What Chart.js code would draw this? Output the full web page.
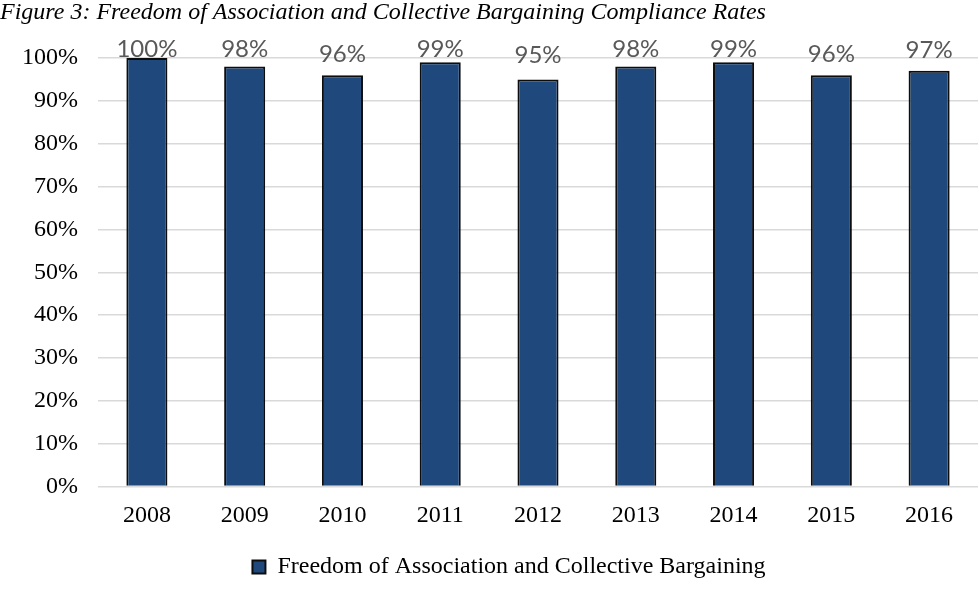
<!DOCTYPE html>
<html>
<head>
<meta charset="utf-8">
<script src="https://cdn.jsdelivr.net/npm/chart.js@4"></script>
<style>
  html, body { margin: 0; padding: 0; background: #ffffff; }
  #wrap { width: 979px; height: 589px; position: relative; }
</style>
</head>
<body>
<div id="wrap"><canvas id="c" width="979" height="589"></canvas></div>
<script>
// Compliance rates by year (percent)
const years = ['2008', '2009', '2010', '2011', '2012', '2013', '2014', '2015', '2016'];
const complianceRates = [100, 98, 96, 99, 95, 98, 99, 96, 97];
const seriesName = 'Freedom of Association and Collective Bargaining';
const titleText = 'Figure 3: Freedom of Association and Collective Bargaining Compliance Rates';

const serif = '"Liberation Serif", "Times New Roman", serif';
const LEGEND_HEIGHT = 25;
const PLOT_BOTTOM = 496;

// Value labels above each bar; kept from running past the top of the plot
const valueLabels = {
  id: 'valueLabels',
  afterDatasetsDraw(chart) {
    const ctx = chart.ctx;
    const top = chart.chartArea.top;
    const meta = chart.getDatasetMeta(0);
    ctx.save();
    ctx.font = '24px Lato, "Open Sans", sans-serif';
    ctx.fillStyle = '#595959';
    ctx.textAlign = 'center';
    ctx.textBaseline = 'alphabetic';
    meta.data.forEach((bar, i) => {
      const y = Math.max(top - 1, Math.min(bar.y - 13, top + 5));
      ctx.fillText(complianceRates[i] + '%', bar.x, y);
    });
    ctx.restore();
  }
};

// Nudge the legend a little right of the canvas centre
const legendOffset = {
  id: 'legendOffset',
  afterLayout(chart) {
    if (chart.legend) {
      chart.legend.left += 20;
      chart.legend.right += 20;
    }
  }
};

new Chart(document.getElementById('c'), {
  type: 'bar',
  data: {
    labels: years,
    datasets: [{
      label: seriesName,
      data: complianceRates,
      backgroundColor: '#1f497d',
      borderColor: '#0d0d0d',
      borderWidth: 2,
      categoryPercentage: 1,
      barPercentage: 0.42,
      clip: false
    }]
  },
  options: {
    responsive: false,
    animation: false,
    devicePixelRatio: 1,
    layout: { padding: { left: 0, right: 1, top: 0, bottom: 0 } },
    plugins: {
      title: {
        display: true,
        text: titleText,
        align: 'start',
        color: '#000000',
        font: { family: serif, size: 24, style: 'italic', weight: 'normal' },
        padding: { top: -2, bottom: 31.2 }
      },
      legend: {
        display: true,
        position: 'bottom',
        labels: {
          color: '#000000',
          font: { family: serif, size: 24 },
          boxWidth: 13,
          boxHeight: 13,
          padding: 0.5
        }
      },
      tooltip: { enabled: false }
    },
    scales: {
      x: {
        grid: { display: false },
        border: { display: false },
        afterFit(scale) { scale.height = 589 - PLOT_BOTTOM - LEGEND_HEIGHT; },
        ticks: {
          color: '#000000',
          font: { family: serif, size: 24 },
          padding: 7
        }
      },
      y: {
        min: 0,
        max: 100,
        afterFit(scale) { scale.width = 98; },
        grid: { color: '#d9d9d9', lineWidth: 1.5, drawTicks: false },
        border: { display: false },
        ticks: {
          stepSize: 10,
          color: '#000000',
          padding: 20,
          font: { family: serif, size: 24 },
          callback: v => v + '%'
        }
      }
    }
  },
  plugins: [valueLabels, legendOffset]
});
</script>
</body>
</html>
